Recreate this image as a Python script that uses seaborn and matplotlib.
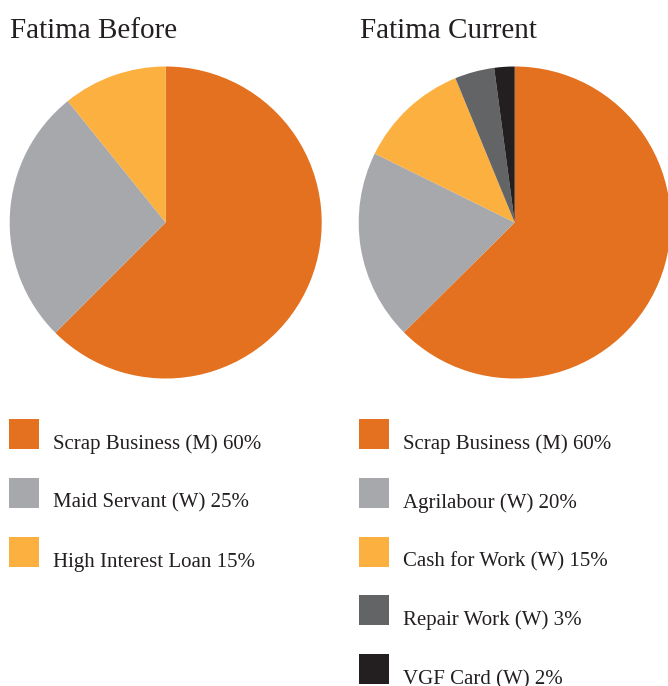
import matplotlib
matplotlib.use("Agg")
import matplotlib.pyplot as plt
import seaborn as sns
from matplotlib.patches import Rectangle

sns.set_theme(style="white")
plt.rcParams['font.family'] = ['Liberation Serif', 'DejaVu Serif']

# data (wedge sizes as drawn, labels as printed)
before_labels = ["Scrap Business (M) 60%", "Maid Servant (W) 25%", "High Interest Loan 15%"]
before_values = [62.5, 26.7, 10.8]
current_labels = ["Scrap Business (M) 60%", "Agrilabour (W) 20%", "Cash for Work (W) 15%",
                  "Repair Work (W) 3%", "VGF Card (W) 2%"]
current_values = [62.5, 19.7, 11.5, 4.1, 2.1]

colors = sns.color_palette(["#E3711F", "#A7A8AB", "#FBB040", "#636466", "#231F20"])

W, H = 668, 686
fig = plt.figure(figsize=(W / 100, H / 100), dpi=100)
fig.patch.set_facecolor("white")

R = 156


def pie_axes(cx, cy):
    return fig.add_axes([(cx - R) / W, 1 - (cy + R) / H, 2 * R / W, 2 * R / H])


for cx, vals, title, tx in [(165.7, before_values, "Fatima Before", 10),
                            (514.7, current_values, "Fatima Current", 360)]:
    ax = pie_axes(cx, 222.5)
    ax.pie(vals, colors=colors[:len(vals)], startangle=90, counterclock=False,
           wedgeprops=dict(linewidth=0))
    ax.set_xlim(-1, 1)
    ax.set_ylim(-1, 1)
    ax.set_axis_off()
    fig.text(tx / W, 1 - 38 / H, title, fontsize=21, color="#231F20",
             ha="left", va="baseline")

# legends in pixel space
lax = fig.add_axes([0, 0, 1, 1])
lax.set_xlim(0, W)
lax.set_ylim(H, 0)
lax.set_axis_off()

for x0, labels in [(9, before_labels), (359, current_labels)]:
    for i, lab in enumerate(labels):
        y0 = 419 + i * 58.8
        lax.add_patch(Rectangle((x0, y0), 30, 30, color=colors[i], lw=0))
        lax.text(x0 + 44, y0 + 30, lab, fontsize=15, color="#231F20",
                 ha="left", va="baseline")

fig.savefig("out.png", dpi=100)
